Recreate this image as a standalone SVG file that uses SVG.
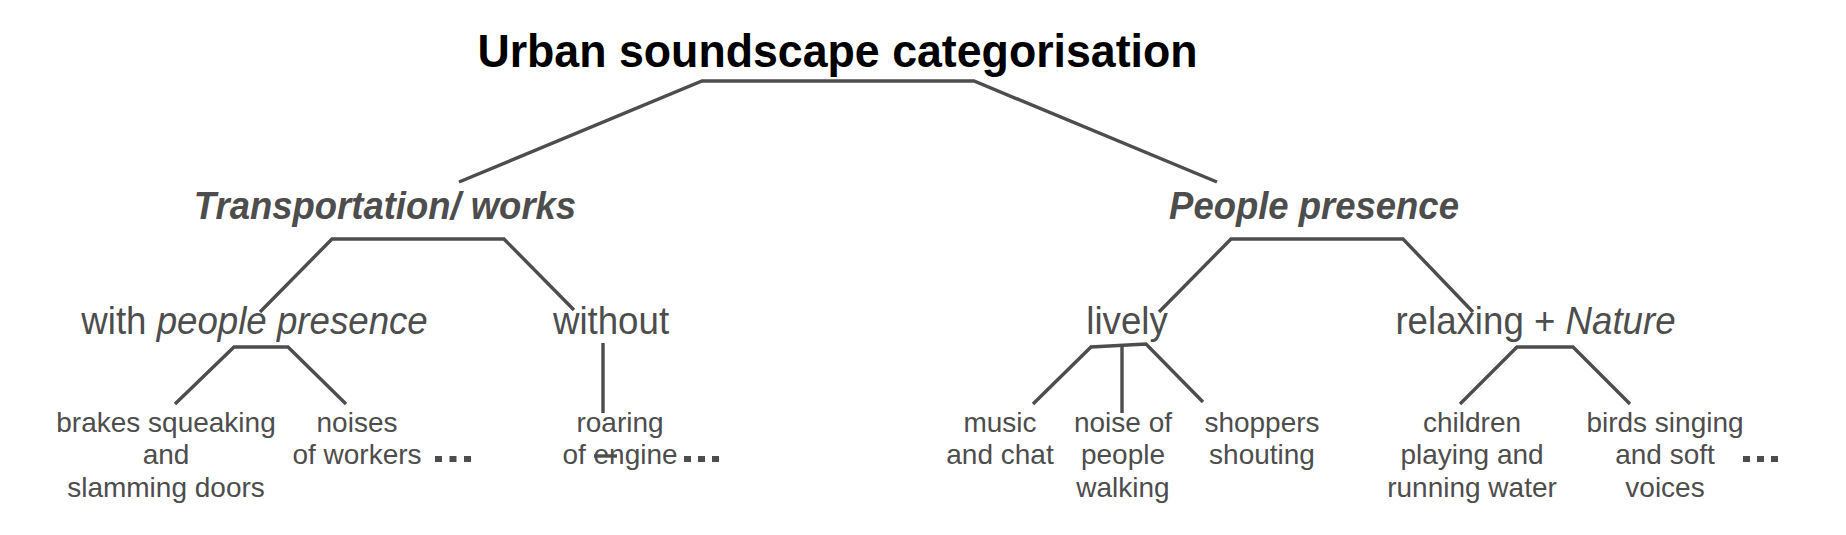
<svg xmlns="http://www.w3.org/2000/svg" width="1846" height="535" viewBox="0 0 1846 535">
<style>
text{font-family:"Liberation Sans",Arial,Helvetica,sans-serif;fill:#4d4d4d}
.title{font-size:47px;font-weight:bold;fill:#000}
.l1{font-size:38px;font-weight:bold;font-style:italic}
.l2{font-size:38px}
.leaf{font-size:28px}
.c{text-anchor:middle}
.it{font-style:italic}
.conn{fill:none;stroke:#4d4d4d;stroke-width:3.4}
.dot{fill:#4d4d4d}
</style>
<rect width="1846" height="535" fill="#fff"/>
<g id="connectors">
<polyline class="conn" points="459,182 702,81 974,81 1217,182"/>
<polyline class="conn" points="260,312 332,239 504,239 574,310"/>
<polyline class="conn" points="1159,312 1231,239 1403,239 1473,312"/>
<polyline class="conn" points="175,404 234,347 288,347 346,404"/>
<line class="conn" x1="603" y1="343" x2="603" y2="413"/>
<polyline class="conn" points="1033,404 1091,347 1146,344 1203,402"/>
<line class="conn" x1="1122" y1="345" x2="1122" y2="413"/>
<polyline class="conn" points="1460,404 1517,347 1573,347 1630,404"/>
</g>
<g id="root"><text class="title c" transform="translate(837.5,67) scale(0.951,1)">Urban soundscape categorisation</text></g>
<g id="transport"><text class="l1 c" transform="translate(385,219) scale(0.96,1)">Transportation/ works</text></g>
<g id="people"><text class="l1 c" transform="translate(1314,219) scale(0.96,1)">People presence</text></g>
<g id="with-people"><text class="l2 c" transform="translate(254.5,334) scale(0.965,1)">with <tspan class="it">people presence</tspan></text></g>
<g id="without"><text class="l2 c" transform="translate(611,334) scale(0.965,1)">without</text></g>
<g id="lively"><text class="l2 c" transform="translate(1127,334) scale(0.965,1)">lively</text></g>
<g id="relaxing"><text class="l2 c" transform="translate(1535.5,334) scale(0.965,1)">relaxing + <tspan class="it">Nature</tspan></text></g>
<g id="brakes"><text class="leaf c" x="166" y="432">brakes squeaking<tspan x="166" y="464">and</tspan><tspan x="166" y="497">slamming doors</tspan></text></g>
<g id="workers"><text class="leaf c" x="357" y="432">noises<tspan x="357" y="464">of workers</tspan></text>
<rect class="dot" x="435" y="456" width="7" height="6"/><rect class="dot" x="449.5" y="456" width="7" height="6"/><rect class="dot" x="464" y="456" width="7" height="6"/></g>
<g id="roaring"><text class="leaf c" x="620" y="432">roaring<tspan x="620" y="464">of engine</tspan></text>
<line class="conn" x1="594" y1="456" x2="617" y2="456"/>
<rect class="dot" x="684" y="456" width="7" height="6"/><rect class="dot" x="698" y="456" width="7" height="6"/><rect class="dot" x="712" y="456" width="7" height="6"/></g>
<g id="music"><text class="leaf c" x="1000" y="432">music<tspan x="1000" y="464">and chat</tspan></text></g>
<g id="noise-walking"><text class="leaf c" x="1123" y="432">noise of<tspan x="1123" y="464">people</tspan><tspan x="1123" y="497">walking</tspan></text></g>
<g id="shoppers"><text class="leaf c" x="1262" y="432">shoppers<tspan x="1262" y="464">shouting</tspan></text></g>
<g id="children"><text class="leaf c" x="1472" y="432">children<tspan x="1472" y="464">playing and</tspan><tspan x="1472" y="497">running water</tspan></text></g>
<g id="birds"><text class="leaf c" x="1665" y="432">birds singing<tspan x="1665" y="464">and soft</tspan><tspan x="1665" y="497">voices</tspan></text>
<rect class="dot" x="1743" y="456" width="7" height="6"/><rect class="dot" x="1757" y="456" width="7" height="6"/><rect class="dot" x="1771" y="456" width="7" height="6"/></g>
</svg>
